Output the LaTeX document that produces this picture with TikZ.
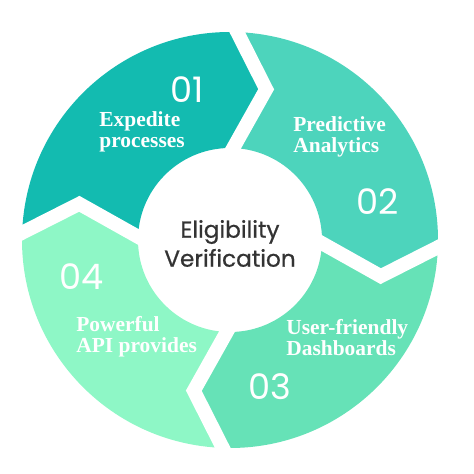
\documentclass[tikz,border=0pt]{standalone}
\usepackage{fontspec}
\setmainfont{Liberation Serif}
\newfontfamily\numfont{Poppins}
\newfontfamily\hubfont[FakeBold=0.7]{Poppins}
\usepackage{tikz}
\usetikzlibrary{positioning}

\definecolor{segone}{HTML}{13BBB0}
\definecolor{segtwo}{HTML}{4DD4BC}
\definecolor{segthree}{HTML}{66E2B7}
\definecolor{segfour}{HTML}{8EF7C6}
\definecolor{hubtext}{HTML}{333333}

\def\rin{1.84cm}
\def\rmid{3.1cm}
\def\rout{4.16cm}

% one quarter of the ring: notch at #1, arrow head at #1-90
\newcommand{\ringpart}[2]{%
  \fill[#2] (#1:\rin) -- (#1-11.5:\rmid) -- (#1:\rout)
    arc[start angle=#1, end angle=#1-90, radius=\rout]
    -- (#1-101.5:\rmid) -- (#1-90:\rin)
    arc[start angle=#1-90, end angle=#1, radius=\rin] -- cycle;}
\newcommand{\ringgap}[1]{%
  \draw[gapline] (#1:\rin) -- (#1-11.5:\rmid) -- (#1:\rout);}

\tikzset{
  stepnum/.style={text=white, font=\numfont\fontsize{20}{20}\selectfont},
  steptext/.style={text=white, font=\bfseries\fontsize{12.2}{12}\selectfont,
    align=left, anchor=west, inner sep=0pt},
  hub/.style={text=hubtext, font=\hubfont\fontsize{13.2}{16.5}\selectfont, align=center},
  gapline/.style={draw=white, line width=0.28cm, line cap=rect}
}

\begin{document}
\begin{tikzpicture}

  \useasboundingbox (-4.6,-4.68) rectangle (4.88,4.8);

  % Ring segments
  \ringpart{178}{segone}
  \ringpart{88}{segtwo}
  \ringpart{-2}{segthree}
  \ringpart{-92}{segfour}

  % Gaps between segments
  \ringgap{178}
  \ringgap{88}
  \ringgap{-2}
  \ringgap{-92}

  % Define nodes
  \node[hub] (hub) at (0,-0.07) {Eligibility\\Verification};

  \node[stepnum] (n1) at (-0.86,3.0) {01};
  \node[steptext] (t1) at (-2.62,2.17) {Expedite\\processes};

  \node[stepnum] (n2) at (2.96,0.76) {02};
  \node[steptext] (t2) at (1.26,2.06) {Predictive\\Analytics};

  \node[stepnum] (n3) at (0.8,-2.94) {03};
  \node[steptext] (t3) at (1.12,-1.96) {User-friendly\\Dashboards};

  \node[stepnum] (n4) at (-2.96,-0.74) {04};
  \node[steptext] (t4) at (-3.08,-1.93) {Powerful\\API provides};

\end{tikzpicture}
\end{document}
